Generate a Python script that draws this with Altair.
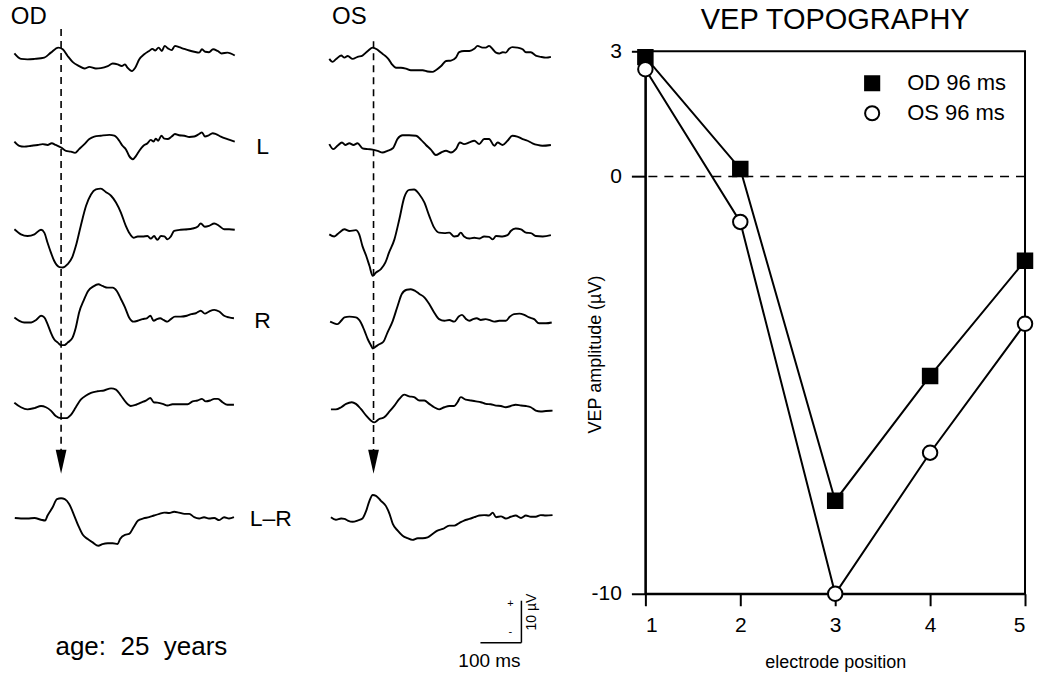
import altair as alt
import pandas as pd

FONT = "Liberation Sans"
NB = "\u00a0"

# ---------------- VEP traces: (time ms, amplitude µV) ----------------
OD_1 = [(-14,0.7),(2,-0.6),(18,-0.7),(35,-0.6),(59,-0.3),(75,0.9),(93,2.1),(104,1.7),(116,0.1),(128,-1.3),(144,-2.3),(157,-2.9),(169,-2.5),(185,-2.9),(197,-2.8),(214,-2.3),(226,-1.7),(238,-1.9),(248,-2.3),(256,-1.9),(262,-2.7),(273,-3.5),(281,-2.7),(291,-0.7),(303,0.5),(315,1.3),(323,1.8),(330,1.4),(338,2.1),(346,1.3),(353,2.5),(361,1.9),(370,1.5),(378,2.5),(388,2.2),(400,1.8),(413,1.4),(425,1.1),(437,0.9),(444,1.7),(452,1.1),(461,1.0),(471,1.7),(482,1.3),(492,0.7),(506,0.9),(524,0.2)]
OD_2 = [(-14,0.6),(-2,-0.4),(10,-0.6),(27,-0.4),(43,-0.2),(55,0.0),(67,-0.2),(77,0.2),(87,-0.2),(100,-0.8),(112,-1.6),(124,-1.8),(134,-2.1),(144,-1.2),(157,0.0),(169,1.2),(181,1.8),(197,2.0),(218,2.2),(230,2.0),(242,0.8),(250,-0.4),(258,-1.2),(266,-2.8),(275,-3.6),(283,-2.8),(291,-1.6),(301,-0.4),(311,0.2),(319,1.0),(326,0.6),(331,1.3),(337,0.8),(345,2.0),(352,1.3),(360,1.2),(370,1.8),(378,2.4),(388,2.1),(401,2.0),(413,1.7),(425,1.8),(437,2.4),(444,2.8),(451,1.8),(459,2.0),(470,2.6),(478,2.4),(490,1.8),(506,1.2),(524,0.6)]
OD_3 = [(-14,0.7),(2,-0.5),(18,-0.9),(35,-0.5),(51,0.6),(59,-0.1),(67,-2.5),(75,-4.8),(83,-6.8),(96,-8.3),(104,-8.4),(116,-7.6),(127,-6.0),(136,-3.3),(148,1.5),(161,6.3),(173,9.0),(185,10.2),(197,10.4),(209,9.6),(222,8.7),(234,7.1),(246,4.7),(258,1.5),(266,-0.1),(277,-1.3),(287,-1.0),(299,-1.0),(311,-0.9),(319,-1.5),(327,-0.9),(335,-1.8),(344,-0.9),(352,-1.0),(360,-1.7),(368,-1.0),(376,0.3),(392,0.6),(409,0.7),(421,0.9),(433,1.3),(441,2.1),(451,1.3),(461,1.5),(474,2.1),(486,1.5),(498,0.7),(510,0.7),(524,0.6)]
OD_4 = [(-14,0.4),(-2,-0.4),(10,-0.8),(27,-0.8),(39,-0.2),(51,0.8),(59,0.4),(67,-1.2),(75,-3.2),(83,-4.8),(92,-5.6),(100,-6.2),(108,-6.2),(116,-5.6),(128,-4.4),(136,-2.0),(144,1.6),(155,4.4),(166,6.7),(179,7.8),(191,8.3),(201,7.9),(214,7.5),(226,7.5),(236,6.7),(246,4.8),(256,2.8),(266,0.4),(277,-0.6),(287,-0.4),(299,0.0),(309,0.2),(318,0.8),(326,-0.4),(334,0.0),(342,0.2),(350,-0.2),(360,-0.6),(368,0.0),(378,0.6),(392,0.6),(407,0.8),(418,1.2),(429,1.4),(441,2.0),(451,1.3),(461,1.8),(474,2.2),(486,1.8),(498,0.8),(510,0.4),(522,0.2)]
OD_5 = [(-14,1.0),(2,-0.1),(18,-0.6),(35,-0.3),(51,0.2),(63,-0.1),(75,-0.9),(87,-2.2),(100,-2.7),(112,-2.7),(124,-1.9),(136,-0.1),(148,1.7),(161,2.7),(173,3.3),(189,3.7),(205,3.9),(222,4.4),(234,4.1),(246,2.7),(258,1.1),(270,0.2),(283,0.5),(295,1.0),(307,1.5),(318,2.1),(326,1.1),(335,1.0),(348,0.7),(360,0.3),(372,0.6),(384,0.6),(396,0.6),(409,0.6),(421,1.3),(433,1.5),(444,1.9),(453,1.3),(464,1.5),(474,1.9),(483,1.9),(494,1.1),(506,0.5),(522,0.5)]
OD_LR = [(-13,0.0),(2,-0.1),(18,-0.1),(35,0.0),(51,-0.4),(61,-0.6),(67,0.6),(79,2.5),(90,4.5),(100,4.7),(109,4.5),(120,3.3),(132,0.6),(142,-1.8),(153,-4.0),(165,-5.0),(177,-5.8),(191,-6.6),(201,-6.2),(214,-6.0),(226,-6.0),(238,-6.2),(244,-5.0),(256,-4.0),(266,-3.8),(277,-2.2),(288,-0.6),(301,-0.1),(315,0.2),(327,0.6),(340,1.0),(352,1.3),(364,1.2),(376,1.5),(388,1.3),(401,1.0),(413,1.0),(425,0.2),(437,-0.1),(449,0.2),(461,-0.1),(474,0.0),(486,-0.5),(498,0.2),(510,-0.1),(522,0.2)]

OS_1 = [(-16,-0.6),(-8,-1.3),(0,-0.7),(13,0.2),(21,-0.3),(29,0.1),(41,-0.6),(53,-0.1),(65,0.2),(78,1.3),(90,2.1),(100,1.7),(110,0.9),(121,0.1),(129,-0.7),(137,-1.9),(147,-2.7),(159,-2.7),(171,-2.9),(183,-3.3),(196,-3.3),(212,-3.3),(224,-3.6),(236,-3.7),(244,-3.3),(257,-2.3),(269,-1.1),(281,-1.0),(293,-0.3),(301,1.0),(313,1.3),(326,1.3),(338,1.8),(346,2.5),(358,2.1),(366,2.1),(374,2.5),(383,1.7),(391,0.9),(399,0.7),(407,1.0),(415,0.9),(423,1.8),(431,2.2),(443,2.1),(456,1.7),(464,1.0),(476,1.0),(488,0.2),(500,-0.1),(513,-0.3),(525,-0.1)]
OS_2 = [(-16,0.0),(-6,-1.2),(4,-0.4),(15,0.4),(23,-0.2),(33,0.2),(43,-0.2),(53,0.2),(65,-1.0),(78,-1.2),(90,-1.3),(102,-1.6),(114,-2.0),(126,-1.6),(139,-1.0),(151,1.3),(163,2.1),(179,2.1),(196,2.0),(208,1.0),(220,-0.2),(232,-1.3),(244,-2.6),(257,-2.0),(269,-1.6),(281,-2.0),(293,-1.2),(303,0.4),(313,0.0),(326,0.4),(338,0.8),(350,0.0),(362,1.2),(374,1.2),(387,-0.4),(395,0.4),(407,-0.2),(419,0.8),(431,2.0),(443,1.8),(456,1.2),(468,0.8),(480,0.2),(492,-0.2),(504,-0.4),(525,-0.2)]
OS_3 = [(-16,-0.5),(-4,-1.0),(8,-0.1),(21,0.7),(33,0.3),(49,0.5),(57,-0.5),(65,-3.3),(74,-5.6),(82,-8.0),(90,-10.4),(98,-9.6),(110,-8.8),(121,-7.2),(130,-4.8),(143,-1.7),(155,3.1),(167,8.3),(179,10.1),(191,10.2),(204,9.0),(216,7.1),(228,3.9),(240,1.1),(252,-0.1),(265,-0.2),(277,-0.1),(289,-1.0),(297,-0.9),(305,-0.1),(313,-1.0),(326,-1.5),(338,-1.3),(350,-1.5),(362,-1.0),(374,-1.1),(383,-1.7),(391,-0.9),(407,-1.0),(419,-0.7),(427,0.3),(439,0.9),(452,0.7),(464,-0.1),(476,-0.2),(488,-0.9),(505,-1.0),(525,-0.7)]
OS_4 = [(-14,-0.6),(-4,-1.0),(4,-1.2),(13,-0.4),(21,0.4),(33,0.6),(49,0.4),(61,-0.8),(70,-2.8),(78,-4.8),(86,-6.3),(90,-7.0),(98,-6.5),(106,-6.0),(116,-5.4),(126,-3.2),(139,-0.4),(151,3.2),(161,6.0),(173,7.0),(183,7.1),(194,6.7),(204,6.0),(216,5.2),(228,3.6),(240,1.6),(252,0.0),(265,-0.4),(277,-0.2),(289,-0.6),(300,0.6),(308,1.0),(318,0.0),(326,-0.4),(335,0.0),(344,0.2),(354,-0.2),(366,0.0),(374,-0.2),(387,-0.6),(399,-0.4),(415,-0.4),(425,0.6),(435,1.2),(448,1.3),(460,1.0),(472,0.4),(484,0.0),(496,-1.0),(513,-1.0),(527,-0.8)]
OS_5 = [(-12,-0.6),(0,-0.6),(13,-0.1),(25,0.7),(39,1.1),(49,0.7),(61,-0.5),(74,-2.1),(86,-3.3),(94,-3.7),(106,-2.9),(118,-2.5),(131,-1.1),(143,0.3),(155,1.9),(167,2.9),(179,2.5),(191,2.3),(204,1.5),(216,1.5),(228,0.7),(240,-0.1),(252,-0.6),(265,-0.1),(277,0.2),(289,0.2),(297,1.1),(305,2.3),(317,1.7),(330,1.5),(342,1.3),(354,1.1),(366,0.7),(378,0.6),(391,0.3),(403,0.2),(415,-0.1),(427,0.2),(439,0.5),(452,0.3),(464,0.2),(476,-0.1),(488,-0.9),(500,-1.1),(513,-1.0),(529,-0.9)]
OS_LR = [(-12,0.2),(0,-0.4),(13,-0.1),(21,-0.2),(29,-0.6),(41,-0.9),(53,-0.6),(65,-0.1),(74,1.7),(82,4.1),(90,5.5),(98,5.3),(110,4.1),(122,2.9),(131,1.0),(139,-1.4),(151,-3.0),(163,-4.2),(175,-4.8),(187,-5.2),(200,-4.8),(212,-4.8),(224,-4.6),(236,-3.8),(248,-3.0),(261,-2.6),(277,-1.8),(289,-1.8),(301,-1.2),(313,-0.6),(326,-0.2),(338,0.2),(350,0.6),(362,0.7),(374,0.6),(383,1.3),(391,0.2),(403,0.4),(415,-0.1),(427,0.3),(439,0.6),(452,0.0),(464,0.6),(476,0.3),(488,0.3),(500,0.7),(513,0.6),(529,0.7)]

TRACES = {
    "OD": [OD_1, OD_2, OD_3, OD_4, OD_5, OD_LR],
    "OS": [OS_1, OS_2, OS_3, OS_4, OS_5, OS_LR],
}
ROW_LABELS = ["", "L", "", "R", "", "L–R"]
# vertical stacking of the traces (µV, measured down from the top of the figure)
ROW_OFFSET = [-13.6, -34.5, -55.5, -76.2, -97.1, -123.6]
LATENCY_MARK = {"OD": 100, "OS": 92}   # dashed marker position (ms)

# ---------------- VEP topography ----------------
ELECTRODE = [1, 2, 3, 4, 5]
OD_AMP = [2.86, 0.18, -7.77, -4.78, -2.02]
OS_AMP = [2.57, -1.09, -10.0, -6.62, -3.53]
SERIES = ["OD 96 ms", "OS 96 ms"]

# ---------------- build tables ----------------
rows = []
for eye, traces in TRACES.items():
    for r, pts in enumerate(traces):
        for t, a in pts:
            rows.append({"eye": eye, "row": r + 1, "t": t, "amp": a, "y": a + ROW_OFFSET[r]})
wave = pd.DataFrame(rows)

# trace panels cover the figure from the plot top (52 px) to the bottom (678 px), 4.2 px per µV
Y_DOM = [-161.4, -12.38]
PANEL_H = 626
ARROW = "M-0.45,-1L0.45,-1L0,1Z"


def trace_panel(eye, xdom, width, texts, extra=()):
    xs = alt.Scale(domain=xdom, nice=False, zero=False)
    ys = alt.Scale(domain=Y_DOM, nice=False, zero=False)
    X = lambda f: alt.X(f, type="quantitative", scale=xs, axis=None)
    Y = lambda f: alt.Y(f, type="quantitative", scale=ys, axis=None)
    d = wave[wave.eye == eye]
    lines = alt.Chart(d).mark_line(color="black", strokeWidth=1.9, interpolate="monotone", clip=False).encode(
        x=X("t"), y=Y("y"), detail="row:N", order="t:Q")
    mk = pd.DataFrame({"t": [LATENCY_MARK[eye]],
                       "top": [-7.1 if eye == "OD" else -10.0],
                       "bot": [-107.6], "tip": [-110.2]})
    dash = alt.Chart(mk).mark_rule(color="black", strokeWidth=1.6, strokeDash=[7, 5], clip=False).encode(
        x=X("t"), y=Y("top"), y2="bot")
    arrow = alt.Chart(mk).mark_point(shape=ARROW, filled=True, size=576, color="black", opacity=1).encode(
        x=X("t"), y=Y("tip"))
    layers = [lines, dash, arrow]
    for tdf, size, kw in texts:
        layers.append(alt.Chart(tdf).mark_text(font=FONT, fontSize=size, color="black", **kw).encode(
            x=X("t"), y=Y("y"), text="label:N"))
    for bar in extra:
        layers.append(bar(X, Y))
    return alt.layer(*layers).properties(width=width, height=PANEL_H,
                                          view=alt.ViewBackground(stroke="transparent"))


od_texts = [
    (pd.DataFrame({"t": [21], "y": [-4.3], "label": ["OD"]}), 24, {}),
    (pd.DataFrame({"t": [592, 592, 612], "y": [-35.2, -76.7, -123.8],
                   "label": [ROW_LABELS[1], ROW_LABELS[3], ROW_LABELS[5]]}), 23, {}),
    (pd.DataFrame({"t": [296], "y": [-154.3], "label": ["age:" + NB + " 25" + NB + " years"]}), 26, {}),
]
os_texts = [
    (pd.DataFrame({"t": [33], "y": [-4.3], "label": ["OS"]}), 24, {}),
    (pd.DataFrame({"t": [426, 426], "y": [-144.0, -150.7], "label": ["+", "-"]}), 11, {}),
    (pd.DataFrame({"t": [480], "y": [-146.0], "label": ["10 µV"]}), 14, {"angle": 270}),
    (pd.DataFrame({"t": [375], "y": [-157.6], "label": ["100 ms"]}), 19, {}),
]

# scale bar: 100 ms horizontally, 10 µV vertically
SCALE_T = [353, 453]
SCALE_V = [-143.3, -153.3]


def bar_h(X, Y):
    return alt.Chart(pd.DataFrame({"t0": [SCALE_T[0]], "t1": [SCALE_T[1]], "v": [SCALE_V[1]]})).mark_rule(
        color="black", strokeWidth=1.5).encode(x=X("t0"), x2="t1", y=Y("v"))


def bar_v(X, Y):
    return alt.Chart(pd.DataFrame({"t0": [SCALE_T[1]], "v0": [SCALE_V[0]], "v1": [SCALE_V[1]]})).mark_rule(
        color="black", strokeWidth=1.5).encode(x=X("t0"), y=Y("v0"), y2="v1")


od_panel = trace_panel("OD", [-46.7, 685.0], 300, od_texts)
os_panel = trace_panel("OS", [-80.9, 553.2], 260, os_texts, extra=(bar_h, bar_v))

# ---------------- topography chart ----------------
topo = pd.DataFrame({
    "pos": ELECTRODE * 2,
    "amp": OD_AMP + OS_AMP,
    "series": [SERIES[0]] * 5 + [SERIES[1]] * 5,
})
xs = alt.X("pos:Q", scale=alt.Scale(domain=[1, 5], nice=False, zero=False),
           axis=alt.Axis(values=ELECTRODE, format="d", title="electrode position",
                         tickSize=12, labelPadding=9, titlePadding=18))
ys = alt.Y("amp:Q", scale=alt.Scale(domain=[-10, 3], nice=False, zero=False),
           axis=alt.Axis(values=[3, 0, -10], title="VEP amplitude (µV)", tickSize=14,
                         labelExpr="replace(datum.label, '\u2212', '-')",
                         labelPadding=10, titleX=-50, titleY=303, titleAngle=270,
                         titleAlign="center", titleBaseline="middle"))
leg = alt.Legend(title=None, orient="none", legendX=861, legendY=21, symbolSize=200,
                 symbolStrokeWidth=2, labelFontSize=22, labelFont=FONT, labelColor="black",
                 labelOffset=24, rowPadding=6, padding=0)
lines = alt.Chart(topo).mark_line(color="black", strokeWidth=2).encode(x=xs, y=ys, detail="series:N")
zero = alt.Chart(pd.DataFrame({"amp": [0]})).mark_rule(color="black", strokeWidth=1.5,
                                                       strokeDash=[9, 7]).encode(y=ys)
pts = alt.Chart(topo).mark_point(filled=True, strokeWidth=2, size=210, opacity=1).encode(
    x=xs, y=ys,
    shape=alt.Shape("series:N", scale=alt.Scale(domain=SERIES, range=["square", "circle"]), legend=leg),
    fill=alt.Fill("series:N", scale=alt.Scale(domain=SERIES, range=["black", "white"]), legend=leg),
    stroke=alt.Stroke("series:N", scale=alt.Scale(domain=SERIES, range=["black", "black"]), legend=leg),
)
topo_chart = alt.layer(zero, lines, pts).properties(
    width=380, height=543,
    title=alt.TitleParams("VEP TOPOGRAPHY", fontSize=29, fontWeight="normal", font=FONT,
                          color="black", anchor="middle", offset=5),
    view=alt.ViewBackground(stroke="black", strokeWidth=2),
)

chart = alt.hconcat(
    alt.hconcat(od_panel, os_panel, spacing=0),
    topo_chart,
    spacing=22,
).properties(padding={"top": 4, "left": 0, "right": 0, "bottom": 0}).configure_axis(
    labelFont=FONT, titleFont=FONT, labelFontSize=21, titleFontSize=18, titleFontWeight="normal",
    labelColor="black", titleColor="black", domainColor="black", tickColor="black",
    domainWidth=2, tickWidth=2, grid=False,
).configure_view(stroke="transparent")

chart.save("out.html", embed_options={"renderer": "svg", "actions": False})
